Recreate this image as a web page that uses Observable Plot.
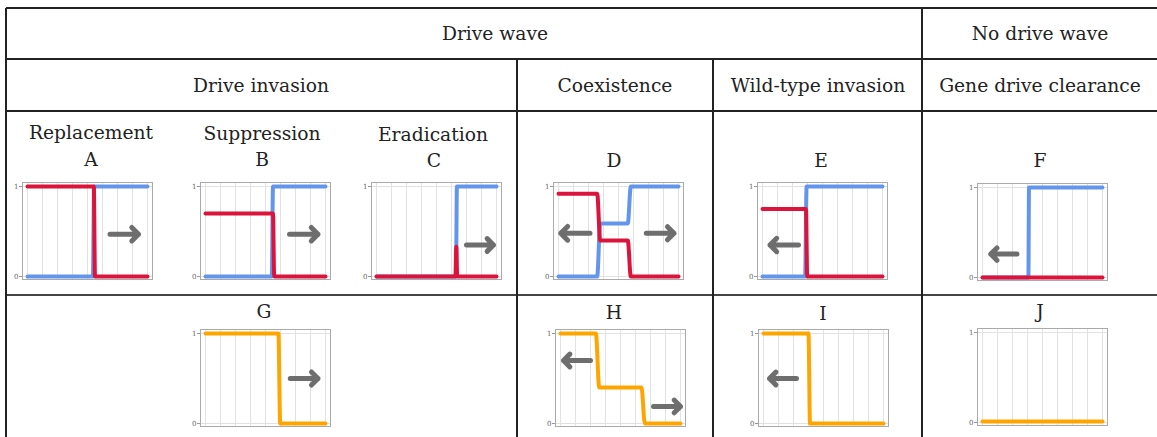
<!DOCTYPE html>
<html><head><meta charset="utf-8">
<script src="https://cdn.jsdelivr.net/npm/d3@7"></script>
<script src="https://cdn.jsdelivr.net/npm/@observablehq/plot@0.6"></script>
<style>
html,body{margin:0;padding:0;background:#fff;}
body{width:1157px;height:437px;overflow:hidden;position:relative;font-family:"DejaVu Serif",serif;}
.t{position:absolute;transform:translate(-50%,-50%);white-space:nowrap;font-size:18.7px;color:#222;line-height:1;}
.h{position:absolute;height:1.5px;background:#222;}
.v{position:absolute;width:1.5px;background:#222;}
.p{position:absolute;}
</style></head><body>
<script>
// ---- data ----
const headersTop = ["Drive wave", "No drive wave"];
const headersMid = ["Drive invasion", "Coexistence", "Wild-type invasion", "Gene drive clearance"];
const outcomes = ["Replacement", "Suppression", "Eradication"];
const panelLetters = ["A","B","C","D","E","F","G","H","I","J"];
const gridX = [0,1,2,3,4,5,6,7,8];
const yTicks = [0,1];

// red series (drive) and blue series (wild type), [x, y]
const driveA = [[0,1],[4.42,1],[4.5,0],[8,0]];
const wildA  = [[0,0],[4.36,0],[4.44,1],[8,1]];
const driveB = [[0,0.7],[4.5,0.7],[4.58,0],[8,0]];
const wildB  = [[0,0],[4.42,0],[4.5,1],[8,1]];
const driveC = [[0,0],[5.26,0],[5.32,0.33],[5.38,0],[8,0]];
const wildC  = [[0,0],[5.3,0],[5.36,1],[8,1]];
const driveD = [[0,0.92],[2.58,0.92],[2.78,0.4],[4.62,0.4],[4.82,0],[8,0]];
const wildD  = [[0,0],[2.58,0],[2.78,0.59],[4.62,0.59],[4.82,1],[8,1]];
const driveE = [[0,0.75],[2.9,0.75],[2.98,0],[8,0]];
const wildE  = [[0,0],[2.84,0],[2.94,1],[8,1]];
const driveF = [[0,0],[8,0]];
const wildF  = [[0,0],[3.06,0],[3.1,1],[8,1]];
// orange series (summary)
const freqG = [[0,1],[4.86,1],[4.98,0],[8,0]];
const freqH = [[0,1],[2.36,1],[2.58,0.4],[5.4,0.4],[5.62,0],[8,0]];
const freqI = [[0,1],[3.0,1],[3.1,0],[8,0]];
const freqJ = [[0,0.01],[8,0.01]];

// wave direction arrows [xFrom, xTo, level]
const arrowsA = [[5.5,7.4,0.47]];
const arrowsB = [[5.6,7.5,0.47]];
const arrowsC = [[6.0,7.8,0.35]];
const arrowsD = [[2.1,0.15,0.48],[5.85,7.7,0.48]];
const arrowsE = [[2.4,0.5,0.35]];
const arrowsF = [[2.3,0.55,0.26]];
const arrowsG = [[5.65,7.5,0.5]];
const arrowsH = [[2.0,0.2,0.7],[6.2,8.0,0.19]];
const arrowsI = [[2.2,0.4,0.5]];
const arrowsJ = [];

const RED = "#dc143c", BLUE = "#6495ed", ORANGE = "#ffa500", GREY = "#666";

// ---- layout helpers ----
function el(cls, style, text) {
  const d = document.createElement("div");
  d.className = cls;
  Object.assign(d.style, style);
  if (text != null) d.textContent = text;
  document.body.appendChild(d);
  return d;
}
function hline(y, x1, x2, color) { el("h", {top:(y-0.75)+"px", left:x1+"px", width:(x2-x1)+"px", background:color||"#222"}); }
function vline(x, y1, y2, color) { el("v", {left:(x-0.75)+"px", top:y1+"px", height:(y2-y1)+"px", background:color||"#222"}); }
function label(text, x, y) { el("t", {left:x+"px", top:y+"px"}, text); }

// table rules
hline(8, 6, 1157); hline(59, 6, 1157); hline(111, 6, 1157); hline(295, 6, 1157, "#444");
vline(6, 8, 437); vline(922, 8, 437); vline(517, 59, 437); vline(713, 59, 437);

// headers
label(headersTop[0], 495, 34); label(headersTop[1], 1040, 34);
label(headersMid[0], 261, 86); label(headersMid[1], 615, 86);
label(headersMid[2], 818, 86); label(headersMid[3], 1040, 86);
label(outcomes[0], 91, 133); label(outcomes[1], 262, 134); label(outcomes[2], 433, 135);

// ---- panels ----
function panel(series, arrows) {
  const marks = [
    Plot.ruleX(gridX, {x: d => d, stroke: "#e2e2e2", strokeWidth: 1}),
    Plot.ruleY(yTicks, {y: d => d, stroke: "#e2e2e2", strokeWidth: 1}),
    Plot.frame({stroke: "#aaa", strokeWidth: 1}),
    Plot.axisY(yTicks, {anchor: "left", tickSize: 3, tickPadding: 1, fontSize: 7, color: "#666", stroke: "#999", label: null, tickFormat: d => d})
  ];
  for (const [data, color] of series) {
    marks.push(Plot.line(data, {x: d => d[0], y: d => d[1], stroke: color, strokeWidth: 4, curve: "monotone-x", strokeLinejoin: "round"}));
  }
  marks.push(Plot.arrow(arrows, {x1: d => d[0], x2: d => d[1], y1: d => d[2], y2: d => d[2],
    stroke: GREY, strokeWidth: 5, headLength: 9, headAngle: 90, strokeLinecap: "round", strokeLinejoin: "round", strokeOpacity: 0.95}));
  return Plot.plot({
    width: 144, height: 101,
    marginLeft: 12, marginRight: 2, marginTop: 2, marginBottom: 2,
    insetLeft: 5, insetRight: 5, insetTop: 4, insetBottom: 3,
    x: {domain: [0, 8], axis: null},
    y: {domain: [0, 1]},
    style: {fontFamily: "DejaVu Serif", background: "transparent", overflow: "visible"},
    marks
  });
}

const panels = [
  ["A", [[wildA, BLUE], [driveA, RED]], arrowsA, 22, 182, 91, 160],
  ["B", [[wildB, BLUE], [driveB, RED]], arrowsB, 200, 182, 262, 160],
  ["C", [[wildC, BLUE], [driveC, RED]], arrowsC, 371, 182, 434, 161],
  ["D", [[wildD, BLUE], [driveD, RED]], arrowsD, 553, 182, 614, 161],
  ["E", [[wildE, BLUE], [driveE, RED]], arrowsE, 757, 182, 821, 161],
  ["F", [[wildF, BLUE], [driveF, RED]], arrowsF, 977, 183, 1040, 161],
  ["G", [[freqG, ORANGE]], arrowsG, 200, 329, 264, 312],
  ["H", [[freqH, ORANGE]], arrowsH, 555, 329, 614, 313],
  ["I", [[freqI, ORANGE]], arrowsI, 758, 329, 823, 314],
  ["J", [[freqJ, ORANGE]], arrowsJ, 977, 328, 1040, 312]
];

for (const [letter, series, arrows, fx, fy, lx, ly] of panels) {
  label(panelLetters[panelLetters.indexOf(letter)], lx, ly);
  const wrap = el("p", {left: (fx - 12) + "px", top: (fy - 2) + "px"});
  wrap.appendChild(panel(series, arrows));
}
</script>
</body></html>
